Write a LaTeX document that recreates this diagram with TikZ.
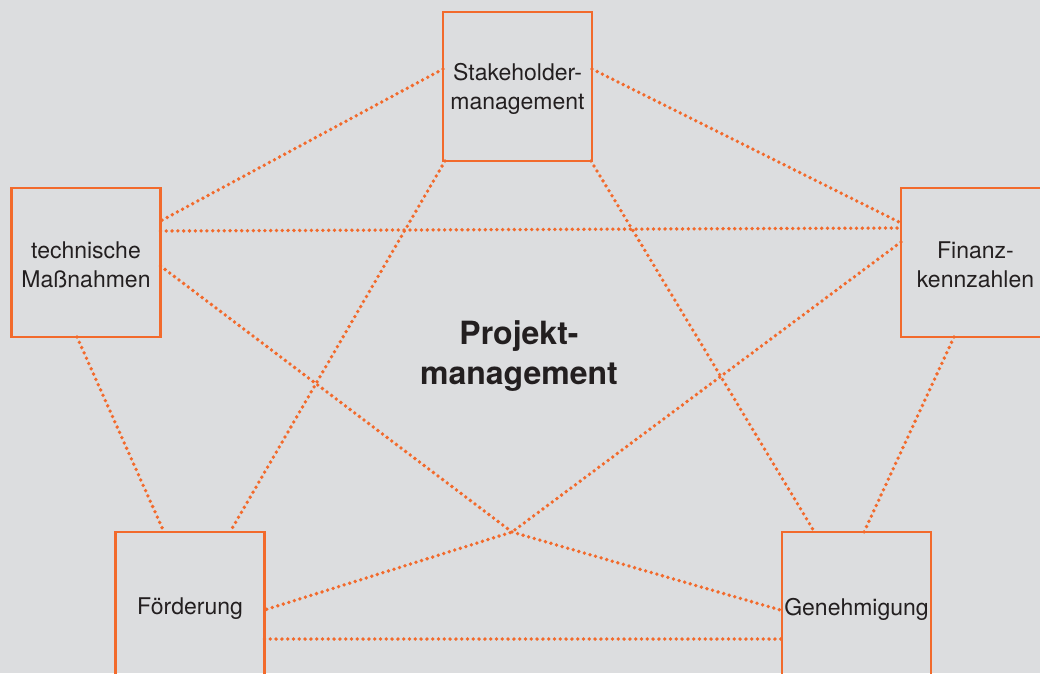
\documentclass[tikz,border=0pt]{standalone}
\usepackage{fontspec}
\setmainfont{TeX Gyre Heros}
\definecolor{bg}{HTML}{DCDDDF}
\definecolor{orng}{HTML}{F26A2C}
\definecolor{txt}{HTML}{231F20}
\begin{document}
\begin{tikzpicture}[x=1pt,y=-1pt,
  box/.style={draw=orng, line width=2.7pt, minimum size=149pt, inner sep=0pt, outer sep=0pt},
  boxtext/.style={align=center, text=txt, font=\fontsize{23}{28.5}\selectfont, yshift=-2.5pt, inner sep=0pt},
  link/.style={draw=orng, line width=3.8pt, line cap=round, dash pattern=on 0pt off 5.8pt}]
\useasboundingbox (0,0) rectangle (1040,673);
\clip (0,0) rectangle (1040,673);
\fill[bg] (0,0) rectangle (1040,673);
\node[box, label={[boxtext]center:{Stakeholder-\\management}}] (S) at (517.5,86.5) {};
\node[box, label={[boxtext]center:{technische\\Maßnahmen}}] (T) at (86,262.5) {};
\node[box, label={[boxtext]center:{Finanz-\\kennzahlen}}] (F) at (975.5,262.5) {};
\node[box, label={[boxtext]center:{Förderung}}] (Fo) at (190,606.5) {};
\node[box, label={[boxtext]center:{Genehmigung}}] (G) at (856.5,606.5) {};
\node[align=center, text=txt, font=\fontsize{32}{40}\selectfont\bfseries] (P) at (519,356) {Projekt-\\management};
\coordinate (X) at (512,532);
\draw[link] ([yshift=17.5pt]S.west) -- ([yshift=41.5pt]T.east);
\draw[link] ([yshift=31.5pt]T.east) -- ([yshift=34.5pt]F.west);
\draw[link] ([yshift=-3.5pt]T.east) -- (X) -- ([yshift=-4pt]G.west);
\draw[link] ([yshift=17.5pt]S.east) -- ([yshift=39.5pt]F.west);
\draw[link] ([xshift=2pt]S.south west) -- ([xshift=40pt]Fo.north);
\draw[link] ([xshift=-1pt]S.south east) -- ([xshift=-42pt]G.north);
\draw[link] ([xshift=-9pt]T.south) -- ([xshift=-26pt]Fo.north);
\draw[link] ([xshift=-21.5pt]F.south) -- ([xshift=7.5pt]G.north);
\draw[link] ([yshift=20.5pt]F.west) -- (X) -- ([yshift=-3.5pt]Fo.east);
\draw[link] ([yshift=-32.5pt]Fo.east) -- ([yshift=-32.5pt]G.west);
\end{tikzpicture}
\end{document}
